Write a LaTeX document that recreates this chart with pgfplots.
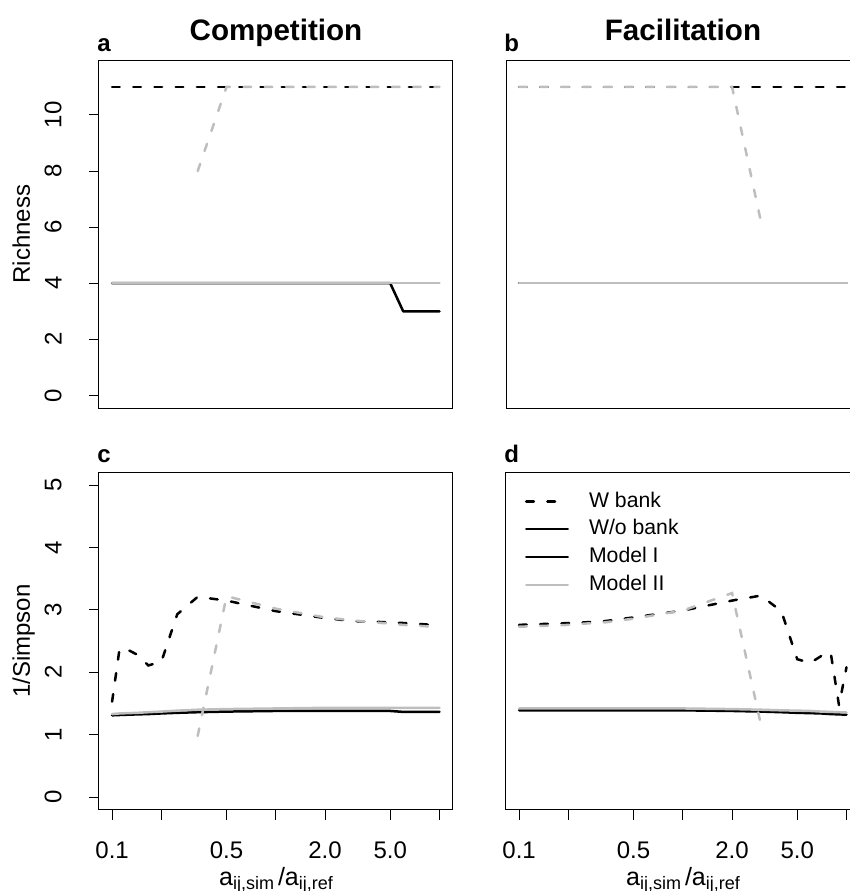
\documentclass[border=0pt]{standalone}
\usepackage{fontspec}
\setmainfont{Liberation Sans}
\usepackage{pgfplots}
\pgfplotsset{compat=1.18}

\definecolor{rgray}{HTML}{BEBEBE}
\newcommand\sub[1]{\raisebox{-2pt}{\fontsize{9}{10}\selectfont #1}}

% interaction strength ratio grid: 1/10 ... 1/2, 1, 2 ... 10
\pgfplotsset{
  panel/.style={
    scale only axis, width=176.8pt,
    xmin=0.08318, xmax=12.023,
    axis line style={line width=0.5pt},
    tick align=outside, tick pos=left, major tick length=5pt,
    every tick/.style={black, line width=0.5pt},
    tick label style={font=\fontsize{12}{14}\selectfont},
    yticklabel style={rotate=90, anchor=south, inner sep=0pt},
    xticklabel style={anchor=north, inner sep=0pt},
    yticklabel shift=13.5pt, xticklabel shift=11.1pt,
    xtick=\empty, ytick=\empty,
  },
  bottomx/.style={
    xtick={0.1,0.2,0.5,1,2,5,10},
    xticklabels={0.1,,0.5,,2.0,5.0,},
  },
  wbank/.style={line width=1.25pt, dash pattern=on 3.8pt off 6.8pt, line cap=round},
  wobank/.style={line width=1.25pt, line cap=round, line join=round},
}

\begin{document}
\begin{tikzpicture}

% ---------------- a: Competition, richness ----------------
\begin{semilogxaxis}[panel, at={(49.5pt,-30pt)}, anchor=north west, height=174.15pt,
  ymin=-0.46, ymax=11.96, ytick={0,2,4,6,8,10}, yticklabels={0,2,4,6,8,10}]
\addplot[wbank, black] coordinates {(0.1,11)(0.111111,11)(0.125,11)(0.142857,11)(0.166667,11)(0.2,11)(0.25,11)(0.333333,11)(0.5,11)(1,11)(2,11)(3,11)(4,11)(5,11)(6,11)(7,11)(8,11)(9,11)(10,11)};
\addplot[wobank, black] coordinates {(0.1,4)(0.111111,4)(0.125,4)(0.142857,4)(0.166667,4)(0.2,4)(0.25,4)(0.333333,4)(0.5,4)(1,4)(2,4)(3,4)(4,4)(5,4)(6,3)(7,3)(8,3)(9,3)(10,3)};
\addplot[wbank, rgray] coordinates {(0.333333,8)(0.5,11)(1,11)(2,11)(3,11)(4,11)(5,11)(6,11)(7,11)(8,11)(9,11)(10,11)};
\addplot[wobank, rgray] coordinates {(0.1,4)(0.111111,4)(0.125,4)(0.142857,4)(0.166667,4)(0.2,4)(0.25,4)(0.333333,4)(0.5,4)(1,4)(2,4)(3,4)(4,4)(5,4)(6,4)(7,4)(8,4)(9,4)(10,4)};
\end{semilogxaxis}

% ---------------- b: Facilitation, richness ----------------
\begin{semilogxaxis}[panel, at={(253pt,-30pt)}, anchor=north west, height=174.15pt,
  ymin=-0.46, ymax=11.96]
\addplot[wbank, black] coordinates {(0.1,11)(0.111111,11)(0.125,11)(0.142857,11)(0.166667,11)(0.2,11)(0.25,11)(0.333333,11)(0.5,11)(1,11)(2,11)(3,11)(4,11)(5,11)(6,11)(7,11)(8,11)(9,11)(10,11)};
\addplot[wobank, black] coordinates {(0.1,4)(0.111111,4)(0.125,4)(0.142857,4)(0.166667,4)(0.2,4)(0.25,4)(0.333333,4)(0.5,4)(1,4)(2,4)(3,4)(4,4)(5,4)(6,4)(7,4)(8,4)(9,4)(10,4)};
\addplot[wbank, rgray] coordinates {(0.1,11)(0.111111,11)(0.125,11)(0.142857,11)(0.166667,11)(0.2,11)(0.25,11)(0.333333,11)(0.5,11)(1,11)(2,11)(3,6.2)};
\addplot[wobank, rgray] coordinates {(0.1,4)(0.111111,4)(0.125,4)(0.142857,4)(0.166667,4)(0.2,4)(0.25,4)(0.333333,4)(0.5,4)(1,4)(2,4)(3,4)(4,4)(5,4)(6,4)(7,4)(8,4)(9,4)(10,4)};
\end{semilogxaxis}

% ---------------- c: Competition, 1/Simpson ----------------
\begin{semilogxaxis}[panel, bottomx, at={(49.5pt,-236.35pt)}, anchor=north west, height=168.4pt,
  ymin=-0.2, ymax=5.2, ytick={0,1,2,3,4,5}, yticklabels={0,1,2,3,4,5}]
\addplot[wbank, black] coordinates {(0.1,1.53)(0.111111,2.38)(0.125,2.36)(0.142857,2.28)(0.166667,2.11)(0.2,2.17)(0.25,2.93)(0.333333,3.21)(0.5,3.15)(1,2.98)(2,2.87)(3,2.82)(4,2.81)(5,2.80)(6,2.79)(7,2.78)(8,2.77)(9,2.76)(10,2.75)};
\addplot[wobank, black] coordinates {(0.1,1.31)(0.111111,1.315)(0.125,1.32)(0.142857,1.325)(0.166667,1.33)(0.2,1.34)(0.25,1.35)(0.333333,1.36)(0.5,1.37)(1,1.38)(2,1.38)(3,1.38)(4,1.38)(5,1.38)(6,1.365)(7,1.365)(8,1.365)(9,1.365)(10,1.365)};
\addplot[wbank, rgray] coordinates {(0.333333,0.98)(0.5,3.22)(1,3.02)(2,2.88)(3,2.83)(4,2.80)(5,2.78)(6,2.76)(7,2.75)(8,2.74)(9,2.73)(10,2.72)};
\addplot[wobank, rgray] coordinates {(0.1,1.33)(0.111111,1.34)(0.125,1.345)(0.142857,1.35)(0.166667,1.36)(0.2,1.37)(0.25,1.385)(0.333333,1.40)(0.5,1.41)(1,1.42)(2,1.43)(3,1.43)(4,1.43)(5,1.43)(6,1.43)(7,1.43)(8,1.43)(9,1.43)(10,1.43)};
\end{semilogxaxis}

% ---------------- d: Facilitation, 1/Simpson ----------------
\begin{semilogxaxis}[panel, bottomx, at={(253pt,-236.35pt)}, anchor=north west, height=168.4pt,
  ymin=-0.2, ymax=5.2,
  legend style={at={(axis description cs:0.0537,0.9433)}, anchor=north west,
    draw=none, fill=none, inner sep=0pt, outer sep=0pt,
    font=\fontsize{10.6}{12}\selectfont, row sep=4.3pt,
    nodes={inner sep=0pt, text height=7.6pt, text depth=2pt},
    /tikz/every odd column/.append style={column sep=10pt}},
  legend cell align=left,
  legend image code/.code={\draw[#1] (0pt,0pt) -- (20.8pt,0pt);}]
\addlegendimage{wbank, black}
\addlegendentry{W bank}
\addlegendimage{wobank, black}
\addlegendentry{W/o bank}
\addlegendimage{wobank, black}
\addlegendentry{Model I}
\addlegendimage{wobank, rgray}
\addlegendentry{Model II}
\addplot[wbank, black, forget plot] coordinates {(0.1,2.76)(0.111111,2.765)(0.125,2.77)(0.142857,2.775)(0.166667,2.78)(0.2,2.79)(0.25,2.80)(0.333333,2.82)(0.5,2.88)(1,2.99)(2,3.15)(3,3.23)(4,2.98)(5,2.21)(6,2.15)(7,2.26)(8,2.32)(9,1.47)(10,2.08)};
\addplot[wobank, black, forget plot] coordinates {(0.1,1.39)(0.111111,1.39)(0.125,1.39)(0.142857,1.39)(0.166667,1.39)(0.2,1.39)(0.25,1.39)(0.333333,1.39)(0.5,1.39)(1,1.39)(2,1.38)(3,1.37)(4,1.36)(5,1.35)(6,1.345)(7,1.34)(8,1.33)(9,1.325)(10,1.32)};
\addplot[wbank, rgray, forget plot] coordinates {(0.1,2.73)(0.111111,2.735)(0.125,2.74)(0.142857,2.745)(0.166667,2.75)(0.2,2.76)(0.25,2.78)(0.333333,2.80)(0.5,2.86)(1,2.99)(2,3.27)(3,1.16)};
\addplot[wobank, rgray, forget plot] coordinates {(0.1,1.42)(0.111111,1.42)(0.125,1.42)(0.142857,1.42)(0.166667,1.42)(0.2,1.42)(0.25,1.42)(0.333333,1.42)(0.5,1.42)(1,1.42)(2,1.41)(3,1.40)(4,1.39)(5,1.385)(6,1.38)(7,1.37)(8,1.365)(9,1.36)(10,1.355)};
\end{semilogxaxis}

% titles, panel letters and axis labels
\node[anchor=base, font=\fontsize{14.8}{16}\selectfont\bfseries] at (138pt,-20pt) {Competition};
\node[anchor=base, font=\fontsize{14.8}{16}\selectfont\bfseries] at (341.5pt,-20pt) {Facilitation};
\node[anchor=base west, inner sep=0pt, font=\fontsize{12}{14}\selectfont\bfseries] at (48.5pt,-25.85pt) {a};
\node[anchor=base west, inner sep=0pt, font=\fontsize{12}{14}\selectfont\bfseries] at (252pt,-25.85pt) {b};
\node[anchor=base west, inner sep=0pt, font=\fontsize{12}{14}\selectfont\bfseries] at (48.5pt,-231.35pt) {c};
\node[anchor=base west, inner sep=0pt, font=\fontsize{12}{14}\selectfont\bfseries] at (252pt,-231.35pt) {d};
\node[anchor=base, rotate=90, inner sep=0pt, font=\fontsize{12}{14}\selectfont] at (15pt,-117pt) {Richness};
\node[anchor=base, rotate=90, inner sep=0pt, font=\fontsize{12}{14}\selectfont] at (15pt,-320.5pt) {1/Simpson};
\node[anchor=base, inner sep=0pt, font=\fontsize{12.5}{14}\selectfont] at (138pt,-442.5pt) {a\sub{ij,sim}\kern2pt/a\sub{ij,ref}};
\node[anchor=base, inner sep=0pt, font=\fontsize{12.5}{14}\selectfont] at (341.5pt,-442.5pt) {a\sub{ij,sim}\kern2pt/a\sub{ij,ref}};

\pgfresetboundingbox
\useasboundingbox (0pt,0pt) rectangle (425pt,-445.5pt);
\end{tikzpicture}
\end{document}
